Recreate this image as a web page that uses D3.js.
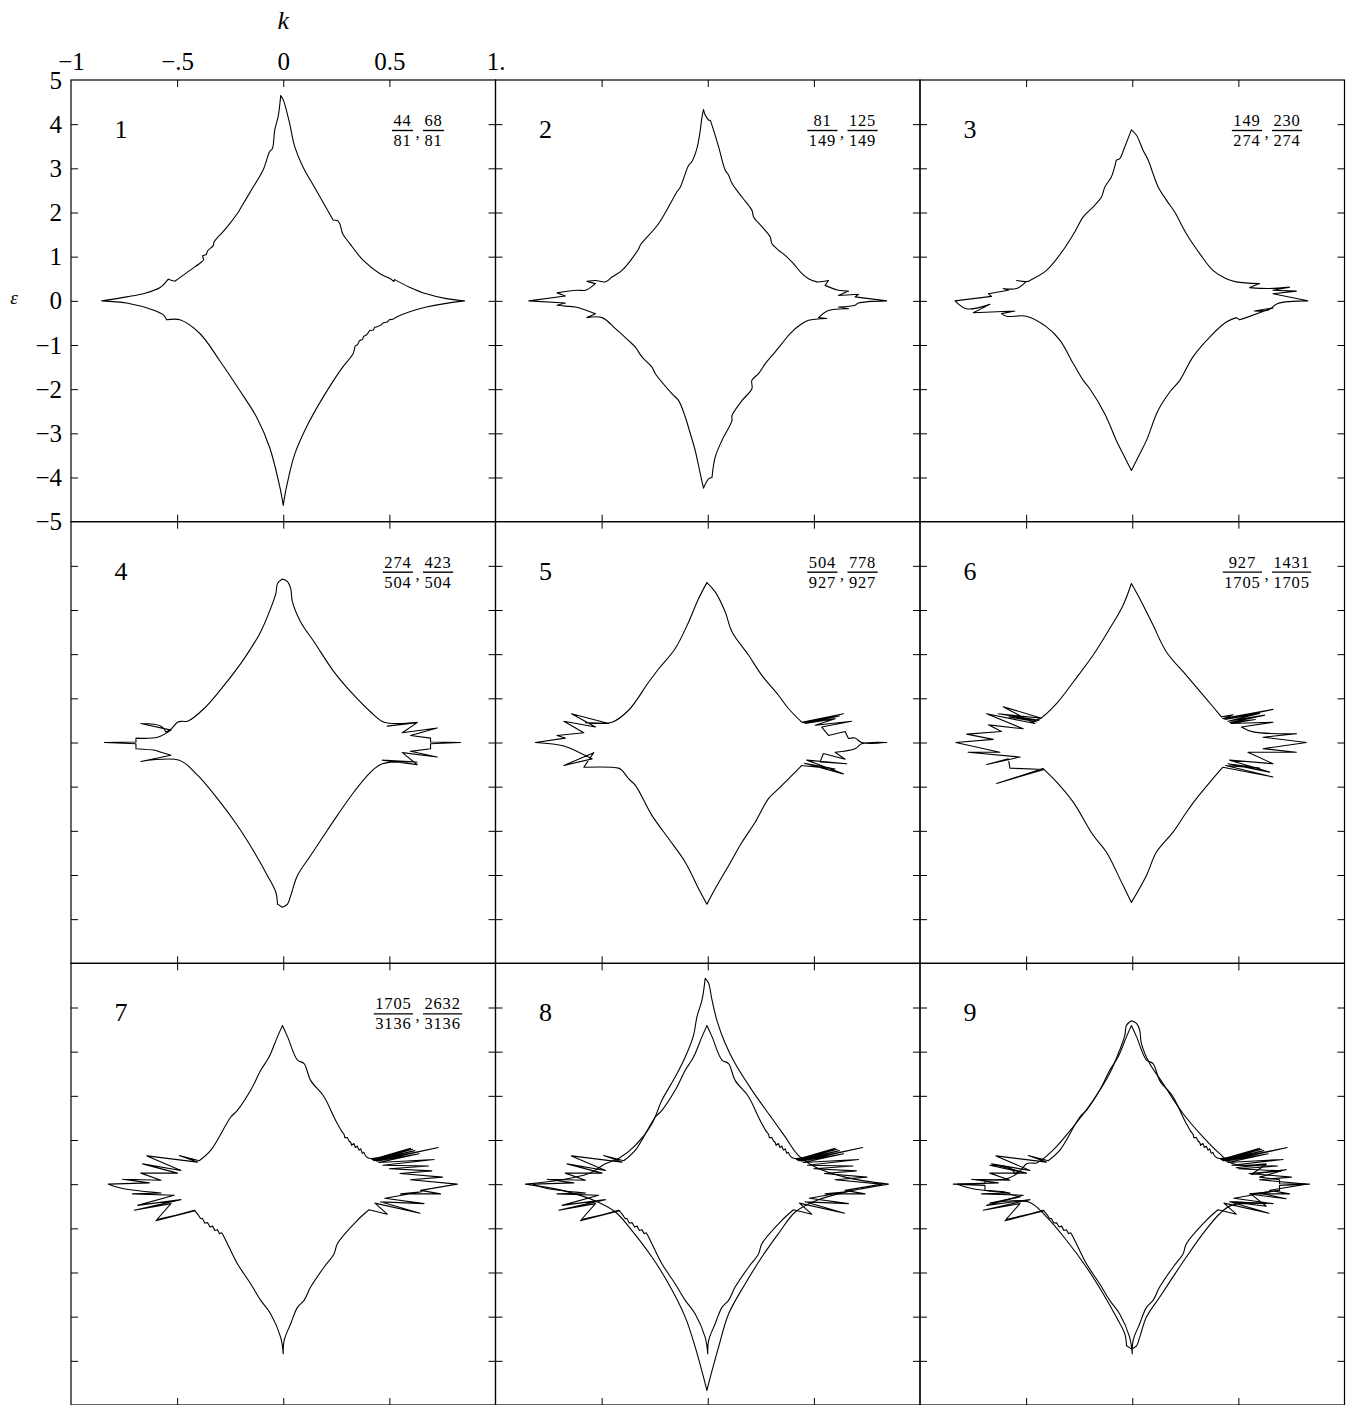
<!DOCTYPE html>
<html lang="en">
<head>
<meta charset="UTF-8">
<title>Energy bands, nine approximants</title>
<script src="https://d3js.org/d3.v7.min.js"></script>
<style>
  body { margin: 0; background: #fff; }
  svg { display: block; }
  .frame { fill: none; stroke: #000; stroke-width: 1.2px; }
  .tick line { stroke: #000; stroke-width: 1px; }
  .domain { display: none; }
  .curve { fill: none; stroke: #000; stroke-width: 1.1px; stroke-linejoin: round; stroke-linecap: round; }
  text { fill: #000; }
</style>
</head>
<body>
<svg width="1346" height="1405"></svg>
<script>
const FONT = "'Liberation Serif', 'Times New Roman', 'DejaVu Serif', serif";

// axis ticks and labels
const kTicks = [-1, -0.5, 0, 0.5, 1];
const kTickLabels = ["\u22121", "\u2212.5", "0", "0.5", "1."];
const innerKTicks = [-0.5, 0, 0.5];
const eTicks = [5, 4, 3, 2, 1, 0, -1, -2, -3, -4, -5];
const eTickLabels = ["5", "4", "3", "2", "1", "0", "\u22121", "\u22122", "\u22123", "\u22124", "\u22125"];
const innerETicks = [4, 3, 2, 1, 0, -1, -2, -3, -4];

const panelNames = ["1", "2", "3", "4", "5", "6", "7", "8", "9"];
// [numerator, denominator] pairs, none for 8 and 9
const panelFractions = [
  [["44", "81"], ["68", "81"]],
  [["81", "149"], ["125", "149"]],
  [["149", "274"], ["230", "274"]],
  [["274", "504"], ["423", "504"]],
  [["504", "927"], ["778", "927"]],
  [["927", "1705"], ["1431", "1705"]],
  [["1705", "3136"], ["2632", "3136"]],
  [],
  []
];

// closed curves [k, eps], upper branch left->right then lower branch right->left
const curve1 = [
  [-0.855,0],[-0.738,0.09],[-0.66,0.16],[-0.58,0.3],[-0.542,0.49],[-0.51,0.45],[-0.503,0.47],
  [-0.44,0.69],[-0.385,0.88],[-0.375,0.93],[-0.38,1.02],[-0.362,1.05],[-0.355,1.14],[-0.33,1.25],
  [-0.326,1.33],[-0.307,1.45],[-0.3,1.48],[-0.252,1.75],[-0.213,2.0],[-0.197,2.13],[-0.15,2.51],
  [-0.095,2.96],[-0.064,3.38],[-0.051,3.45],[-0.04,3.87],[-0.024,4.17],[-0.012,4.65],[0,4.55],
  [0.03,4.02],[0.054,3.49],[0.093,3.03],[0.156,2.5],[0.235,1.83],[0.255,1.82],[0.266,1.75],
  [0.28,1.52],[0.313,1.3],[0.376,0.92],[0.454,0.62],[0.505,0.5],[0.52,0.44],[0.525,0.48],
  [0.595,0.31],[0.674,0.16],[0.768,0.05],[0.854,0],
  [0.674,-0.14],[0.532,-0.37],[0.52,-0.41],[0.5,-0.43],[0.49,-0.48],[0.47,-0.5],[0.46,-0.55],
  [0.445,-0.58],[0.43,-0.6],[0.425,-0.66],[0.407,-0.67],[0.39,-0.78],[0.38,-0.8],[0.372,-0.88],
  [0.36,-0.9],[0.35,-0.99],[0.34,-1.02],[0.329,-1.2],[0.28,-1.5],[0.188,-2.18],[0.109,-2.86],
  [0.054,-3.47],[0.015,-4.22],[0,-4.63],[-0.016,-4.22],[-0.064,-3.32],[-0.126,-2.63],
  [-0.205,-2.03],[-0.3,-1.35],[-0.393,-0.74],[-0.487,-0.43],[-0.55,-0.43],[-0.562,-0.33],
  [-0.613,-0.21],[-0.738,-0.05],[-0.855,0]
];

const curve2 = [
  [-0.843,0],[-0.671,0.11],[-0.71,0.18],[-0.616,0.24],[-0.576,0.24],[-0.529,0.39],[-0.569,0.44],
  [-0.529,0.46],[-0.482,0.43],[-0.451,0.54],[-0.404,0.69],[-0.325,1.18],[-0.318,1.26],
  [-0.231,1.75],[-0.145,2.47],[-0.129,2.58],[-0.09,3.07],[-0.075,3.15],[-0.051,3.45],
  [-0.035,3.87],[-0.027,4.17],[-0.02,4.33],[-0.012,4.21],[0.004,4.09],[0.012,4.09],
  [0.027,3.87],[0.051,3.49],[0.082,2.96],[0.098,2.85],[0.114,2.66],[0.161,2.35],[0.208,2.05],
  [0.216,1.9],[0.255,1.68],[0.294,1.45],[0.302,1.3],[0.333,1.15],[0.365,1.03],[0.404,0.84],
  [0.443,0.62],[0.475,0.5],[0.514,0.43],[0.569,0.46],[0.553,0.35],[0.616,0.24],[0.663,0.22],
  [0.616,0.12],[0.71,0.15],[0.694,0.09],[0.843,0],
  [0.71,-0.05],[0.694,-0.1],[0.616,-0.14],[0.663,-0.18],[0.569,-0.22],[0.522,-0.38],
  [0.561,-0.4],[0.475,-0.44],[0.443,-0.52],[0.388,-0.74],[0.349,-0.97],[0.31,-1.2],
  [0.271,-1.42],[0.239,-1.65],[0.208,-1.8],[0.208,-1.99],[0.161,-2.26],[0.114,-2.6],
  [0.114,-2.71],[0.067,-3.16],[0.035,-3.54],[0.02,-4.0],[0.004,-4.03],[-0.02,-4.24],
  [-0.035,-3.92],[-0.059,-3.39],[-0.082,-3.01],[-0.106,-2.63],[-0.137,-2.26],[-0.169,-2.1],
  [-0.247,-1.65],[-0.263,-1.5],[-0.31,-1.27],[-0.341,-1.05],[-0.373,-0.9],[-0.435,-0.63],
  [-0.498,-0.38],[-0.569,-0.38],[-0.529,-0.29],[-0.624,-0.14],[-0.671,-0.12],[-0.71,-0.1],
  [-0.671,-0.05],[-0.843,0]
];

const curve3 = [
  [-0.835,0],[-0.663,0.1],[-0.678,0.16],[-0.584,0.24],[-0.608,0.28],[-0.545,0.28],[-0.501,0.43],
  [-0.545,0.46],[-0.49,0.44],[-0.482,0.46],[-0.404,0.69],[-0.325,1.15],[-0.271,1.56],
  [-0.231,1.9],[-0.184,2.13],[-0.145,2.35],[-0.129,2.58],[-0.098,2.81],[-0.075,3.19],
  [-0.059,3.22],[-0.035,3.49],[-0.004,3.87],[0.02,3.75],[0.051,3.41],[0.075,3.19],[0.098,2.88],
  [0.122,2.58],[0.161,2.28],[0.2,2.01],[0.255,1.52],[0.318,1.07],[0.38,0.69],[0.443,0.5],
  [0.49,0.43],[0.6,0.39],[0.553,0.3],[0.647,0.28],[0.741,0.31],[0.663,0.24],[0.773,0.22],
  [0.663,0.16],[0.827,0],
  [0.686,-0.06],[0.639,-0.21],[0.576,-0.23],[0.663,-0.16],[0.537,-0.38],[0.506,-0.43],
  [0.49,-0.38],[0.443,-0.48],[0.365,-0.82],[0.286,-1.27],[0.224,-1.8],[0.176,-2.07],
  [0.122,-2.48],[0.067,-3.16],[0.035,-3.47],[-0.004,-3.84],[-0.043,-3.47],[-0.075,-3.16],
  [-0.129,-2.56],[-0.2,-1.99],[-0.231,-1.8],[-0.278,-1.42],[-0.341,-0.89],[-0.404,-0.59],
  [-0.498,-0.35],[-0.592,-0.35],[-0.616,-0.29],[-0.553,-0.23],[-0.749,-0.27],[-0.671,-0.08],
  [-0.78,-0.18],[-0.835,0]
];

const curve4 = [
  [-0.843,0],[-0.694,0.01],[-0.694,0.1],[-0.592,0.12],[-0.529,0.28],[-0.671,0.43],[-0.576,0.37],
  [-0.553,0.24],[-0.529,0.3],[-0.498,0.46],[-0.475,0.48],[-0.451,0.48],[-0.373,0.77],
  [-0.278,1.3],[-0.184,1.9],[-0.106,2.51],[-0.059,3.04],[-0.035,3.37],[-0.027,3.6],
  [-0.004,3.7],[0.02,3.64],[0.035,3.49],[0.043,3.19],[0.082,2.73],[0.145,2.28],[0.239,1.6],
  [0.333,1.07],[0.412,0.69],[0.475,0.46],[0.631,0.46],[0.49,0.37],[0.631,0.45],[0.561,0.22],
  [0.725,0.33],[0.6,0.16],[0.694,0.1],[0.694,0.01],[0.835,0],
  [0.694,-0.03],[0.694,-0.14],[0.6,-0.2],[0.725,-0.33],[0.561,-0.23],[0.631,-0.5],[0.467,-0.4],
  [0.631,-0.44],[0.467,-0.48],[0.412,-0.67],[0.333,-1.12],[0.255,-1.65],[0.192,-2.1],
  [0.129,-2.56],[0.067,-3.01],[0.035,-3.47],[0.02,-3.66],[-0.004,-3.73],[-0.027,-3.66],
  [-0.035,-3.39],[-0.075,-3.01],[-0.137,-2.48],[-0.216,-1.88],[-0.31,-1.27],[-0.404,-0.74],
  [-0.49,-0.4],[-0.671,-0.43],[-0.529,-0.29],[-0.584,-0.21],[-0.6,-0.18],[-0.694,-0.14],
  [-0.694,-0.03],[-0.843,0]
];

const curve5 = [
  [-0.812,0],[-0.671,0.1],[-0.71,0.16],[-0.584,0.22],[-0.678,0.48],[-0.529,0.35],[-0.642,0.65],
  [-0.467,0.43],[-0.576,0.45],[-0.451,0.46],[-0.373,0.73],[-0.278,1.37],[-0.231,1.67],
  [-0.153,2.13],[-0.09,2.73],[-0.043,3.26],[-0.004,3.62],[0.035,3.41],[0.082,2.96],
  [0.114,2.51],[0.192,1.98],[0.255,1.52],[0.333,1.07],[0.38,0.77],[0.443,0.46],[0.639,0.65],
  [0.449,0.45],[0.62,0.6],[0.459,0.43],[0.6,0.54],[0.506,0.39],[0.678,0.48],[0.537,0.35],
  [0.569,0.16],[0.647,0.25],[0.663,0.09],[0.694,0.1],[0.725,0],[0.843,0],
  [0.725,-0.03],[0.694,-0.14],[0.6,-0.22],[0.647,-0.38],[0.545,-0.25],[0.529,-0.44],
  [0.655,-0.48],[0.467,-0.4],[0.639,-0.71],[0.455,-0.47],[0.6,-0.6],[0.443,-0.52],
  [0.412,-0.67],[0.333,-1.05],
  [0.286,-1.27],[0.224,-1.8],[0.161,-2.26],[0.098,-2.79],[0.035,-3.31],[-0.004,-3.66],
  [-0.043,-3.31],[-0.106,-2.71],[-0.184,-2.18],[-0.263,-1.65],[-0.341,-0.97],[-0.373,-0.82],
  [-0.404,-0.63],[-0.42,-0.58],[-0.584,-0.56],[-0.537,-0.23],[-0.678,-0.52],[-0.545,-0.37],
  [-0.608,-0.22],[-0.678,-0.08],[-0.812,0]
];

const curve6 = [
  [-0.831,0],[-0.655,0.07],[-0.78,0.19],[-0.616,0.25],[-0.678,0.4],[-0.514,0.31],[-0.686,0.65],
  [-0.459,0.43],[-0.608,0.81],[-0.427,0.55],[-0.631,0.65],[-0.44,0.5],[-0.58,0.58],
  [-0.45,0.47],[-0.482,0.48],[-0.435,0.54],[-0.357,0.88],
  [-0.278,1.37],[-0.184,1.98],[-0.106,2.58],[-0.043,3.11],[-0.004,3.6],[0.035,3.26],
  [0.098,2.66],[0.161,2.05],[0.255,1.52],[0.349,0.99],[0.42,0.58],[0.475,0.63],[0.427,0.54],
  [0.663,0.75],[0.437,0.52],[0.6,0.66],[0.451,0.48],[0.624,0.62],[0.46,0.45],[0.58,0.52],
  [0.467,0.43],[0.663,0.46],[0.514,0.35],[0.569,0.24],
  [0.773,0.2],[0.616,0.12],[0.82,0],
  [0.616,-0.14],[0.773,-0.22],[0.545,-0.22],[0.663,-0.48],[0.459,-0.4],[0.647,-0.67],
  [0.451,-0.48],[0.6,-0.58],[0.44,-0.52],[0.663,-0.78],[0.427,-0.56],[0.38,-0.82],[0.302,-1.27],[0.255,-1.58],
  [0.192,-2.03],[0.114,-2.48],[0.067,-3.01],[-0.004,-3.62],[-0.043,-3.24],[-0.122,-2.48],
  [-0.184,-2.1],[-0.278,-1.35],[-0.357,-0.89],[-0.42,-0.59],[-0.639,-0.93],[-0.416,-0.61],
  [-0.576,-0.58],[-0.584,-0.37],[-0.686,-0.5],[-0.529,-0.33],[-0.773,-0.22],[-0.624,-0.22],
  [-0.831,0]
];

const curve7 = [
  [-0.824,0],[-0.631,0.03],[-0.757,0.11],[-0.576,0.09],[-0.671,0.25],[-0.498,0.25],[-0.663,0.46],
  [-0.482,0.31],[-0.642,0.64],[-0.404,0.5],[-0.49,0.65],[-0.396,0.53],[-0.341,0.77],
  [-0.247,1.52],[-0.216,1.67],[-0.153,2.13],[-0.106,2.58],[-0.075,2.81],[-0.059,2.96],
  [-0.027,3.34],[-0.004,3.59],[0.02,3.34],[0.067,2.81],[0.098,2.73],[0.129,2.35],[0.192,1.98],
  [0.239,1.52],[0.255,1.37],[0.275,1.2],[0.286,1.13],[0.29,1.05],[0.302,1.06],[0.31,0.98],
  [0.318,0.94],[0.322,0.88],[0.333,0.92],[0.34,0.83],[0.349,0.86],[0.357,0.77],[0.365,0.8],
  [0.372,0.7],[0.38,0.72],[0.39,0.63],[0.412,0.58],[0.6,0.81],[0.418,0.56],[0.61,0.79],
  [0.424,0.54],[0.62,0.76],[0.43,0.53],[0.73,0.83],[0.44,0.52],[0.64,0.69],[0.45,0.49],
  [0.71,0.56],[0.47,0.43],[0.684,0.41],[0.5,0.35],[0.7,0.3],[0.55,0.24],
  [0.75,0.16],[0.6,0.1],[0.82,0],
  [0.647,-0.14],[0.741,-0.22],[0.553,-0.22],[0.652,-0.17],[0.479,-0.32],[0.663,-0.44],
  [0.459,-0.4],[0.644,-0.66],[0.432,-0.43],[0.49,-0.68],[0.404,-0.58],[0.349,-0.82],
  [0.255,-1.35],[0.239,-1.58],
  [0.192,-1.88],[0.129,-2.33],[0.098,-2.63],[0.067,-2.79],[0.035,-3.16],[0.004,-3.54],
  [0,-3.84],[-0.012,-3.47],[-0.059,-2.94],[-0.106,-2.63],[-0.153,-2.26],[-0.216,-1.8],
  [-0.255,-1.43],[-0.278,-1.2],[-0.29,-1.1],[-0.3,-1.12],[-0.31,-1.03],[-0.322,-1.05],
  [-0.333,-0.95],[-0.345,-0.97],[-0.357,-0.87],[-0.37,-0.88],[-0.38,-0.78],[-0.39,-0.77],
  [-0.4,-0.7],[-0.42,-0.59],[-0.6,-0.83],[-0.415,-0.6],[-0.595,-0.8],[-0.529,-0.44],
  [-0.702,-0.59],[-0.482,-0.35],
  [-0.686,-0.48],[-0.514,-0.25],[-0.71,-0.22],[-0.576,-0.2],[-0.757,-0.1],[-0.824,0]
];

const curve8Outer = [
  [-0.859,0],[-0.686,0.1],[-0.561,0.24],[-0.482,0.46],[-0.42,0.58],[-0.341,0.88],[-0.263,1.37],
  [-0.216,1.9],[-0.153,2.43],[-0.106,2.88],[-0.067,3.37],[-0.051,3.79],[-0.027,4.17],
  [-0.012,4.66],[0.004,4.55],[0.02,4.17],[0.043,3.71],[0.082,3.19],[0.129,2.73],[0.208,2.13],
  [0.286,1.6],[0.365,1.07],[0.427,0.65],[0.506,0.39],[0.647,0.16],[0.851,0],
  [0.647,-0.18],[0.506,-0.38],[0.412,-0.63],[0.333,-1.12],[0.255,-1.65],[0.176,-2.26],
  [0.098,-2.94],[0.051,-3.69],[0.012,-4.37],[-0.004,-4.67],[-0.02,-4.37],[-0.059,-3.69],
  [-0.106,-3.01],[-0.184,-2.26],[-0.263,-1.65],[-0.357,-1.05],[-0.435,-0.63],[-0.529,-0.38],
  [-0.686,-0.14],[-0.859,0]
];

const panelCurves = [
  [curve1], [curve2], [curve3], [curve4], [curve5], [curve6], [curve7],
  [curve8Outer, curve7], [curve4, curve7]
];

// layout
const marginLeft = 71, marginTop = 80;
const pw = 424.5, ph = 1325 / 3;

const svg = d3.select("svg");
const x = d3.scaleLinear().domain([-1, 1]).range([0, pw]);
const y = d3.scaleLinear().domain([-5, 5]).range([ph, 0]);

// smooth runs of points, but keep sharp turns (cusps, zigzag tips) as corners
const smoothLine = d3.line().curve(d3.curveCatmullRom.alpha(0.5));
function curvePath(pts) {
  const p = pts.map(d => [x(d[0]), y(d[1])]);
  const breaks = [0];
  for (let j = 1; j < p.length - 1; j++) {
    const ax = p[j][0] - p[j - 1][0], ay = p[j][1] - p[j - 1][1];
    const bx = p[j + 1][0] - p[j][0], by = p[j + 1][1] - p[j][1];
    const cos = (ax * bx + ay * by) / (Math.hypot(ax, ay) * Math.hypot(bx, by));
    if (cos < 0.7) breaks.push(j);
  }
  breaks.push(p.length - 1);
  let d = "";
  for (let b = 0; b < breaks.length - 1; b++) d += smoothLine(p.slice(breaks[b], breaks[b + 1] + 1));
  return d;
}

svg.append("defs").append("clipPath").attr("id", "clip")
  .append("rect").attr("width", pw).attr("height", ph);

panelNames.forEach((name, i) => {
  const col = i % 3, row = Math.floor(i / 3);
  const g = svg.append("g")
    .attr("transform", `translate(${marginLeft + col * pw},${marginTop + row * ph})`);

  // inward ticks on all four sides
  const tk = 7;
  g.append("g").call(d3.axisBottom(x).tickValues(innerKTicks).tickSize(tk).tickFormat(""));
  g.append("g").attr("transform", `translate(0,${ph})`)
    .call(d3.axisTop(x).tickValues(innerKTicks).tickSize(tk).tickFormat(""));
  g.append("g").call(d3.axisRight(y).tickValues(innerETicks).tickSize(tk).tickFormat(""));
  g.append("g").attr("transform", `translate(${pw},0)`)
    .call(d3.axisLeft(y).tickValues(innerETicks).tickSize(tk).tickFormat(""));

  const plot = g.append("g").attr("clip-path", "url(#clip)");
  panelCurves[i].forEach(c => {
    plot.append("path").attr("class", "curve").attr("d", curvePath(c));
  });

  g.append("rect").attr("class", "frame").attr("width", pw).attr("height", ph);

  g.append("text").attr("x", 50).attr("y", 58).attr("text-anchor", "middle")
    .attr("font-family", FONT).attr("font-size", 26).text(name);

  // fraction labels, centred as a group
  const fr = panelFractions[i];
  if (fr.length) {
    const lab = g.append("g").attr("font-family", FONT).attr("font-size", 16.5);
    const parts = fr.map(([n, d]) => {
      const fg = lab.append("g");
      const tn = fg.append("text").attr("text-anchor", "middle").attr("y", 46)
        .attr("font-family", FONT).attr("letter-spacing", 0.8).text(n);
      const td = fg.append("text").attr("text-anchor", "middle").attr("y", 66)
        .attr("font-family", FONT).attr("letter-spacing", 0.8).text(d);
      const w = Math.max(tn.node().getComputedTextLength(), td.node().getComputedTextLength()) + 3;
      return { fg, w };
    });
    const comma = 10;
    const total = parts[0].w + comma + parts[1].w;
    let cx = 347 - total / 2;
    parts.forEach((p, j) => {
      const mid = cx + p.w / 2;
      p.fg.attr("transform", `translate(${mid},0)`);
      p.fg.append("line").attr("x1", -p.w / 2).attr("x2", p.w / 2)
        .attr("y1", 50.5).attr("y2", 50.5).attr("stroke", "#000").attr("stroke-width", 1.4);
      cx += p.w;
      if (j === 0) {
        lab.append("text").attr("x", cx + 2.5).attr("y", 58).attr("font-family", FONT).text(",");
        cx += comma;
      }
    });
  }

  if (i === 0) {
    const ax = g.append("g").call(d3.axisTop(x).tickValues(kTicks)
      .tickFormat((d, j) => kTickLabels[j]).tickSize(0).tickPadding(10));
    ax.selectAll("text").attr("font-size", 25).attr("font-family", FONT);
    const ay = g.append("g").call(d3.axisLeft(y).tickValues(eTicks)
      .tickFormat((d, j) => eTickLabels[j]).tickSize(0).tickPadding(9));
    ay.selectAll("text").attr("font-size", 25).attr("font-family", FONT);
  }
});

svg.append("text").attr("x", marginLeft + x(0)).attr("y", 29).attr("text-anchor", "middle")
  .attr("font-family", FONT).attr("font-size", 26).attr("font-style", "italic").text("k");
svg.append("text").attr("x", 14).attr("y", 304).attr("text-anchor", "middle")
  .attr("font-family", FONT).attr("font-size", 19).attr("font-style", "italic").text("ε");
</script>
</body>
</html>
